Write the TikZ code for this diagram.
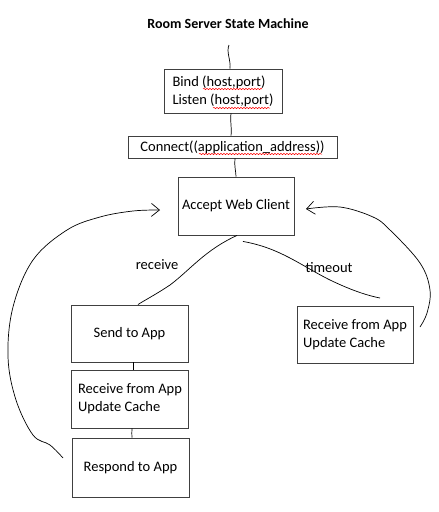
\documentclass[tikz,border=0pt]{standalone}
\usepackage{fontspec}
\setmainfont{Carlito}
\usetikzlibrary{arrows.meta,decorations.pathmorphing}
\begin{document}
\begin{tikzpicture}[x=1pt,y=-1pt,
  box/.style={draw=black!75,line width=0.9pt,inner sep=0pt,align=left,font=\fontsize{14.5}{18}\selectfont},
  hand/.style={line width=0.7pt,black},
  lab/.style={font=\fontsize{14.5}{18}\selectfont},
  barb/.style={-{Straight Barb[length=8pt,width=13pt]}},
  squig/.style={red,line width=0.5pt,decorate,decoration={snake,amplitude=0.7pt,segment length=3pt}}]
\useasboundingbox (0,0) rectangle (439,512);
\node[font=\bfseries\fontsize{14}{17}\selectfont] (title) at (228,24) {Room Server State Machine};
\node[box,minimum width=118pt,minimum height=44pt] (bind) at (223,91) {Bind (host,port)\\Listen (host,port)};
\node[box,minimum width=209pt,minimum height=22pt] (connect) at (232.5,147) {Connect((application\_address))};
\node[box,minimum width=116pt,minimum height=58pt] (accept) at (236,206) {Accept Web Client};
\node[box,minimum width=117pt,minimum height=57pt] (send) at (129.5,333.5) {Send to App};
\node[box,minimum width=117pt,minimum height=58pt] (recv) at (130,399) {Receive from App\\Update Cache};
\node[box,minimum width=117pt,minimum height=59pt] (resp) at (130.5,467.5) {Respond to App};
\node[box,minimum width=116pt,minimum height=57pt] (recv2) at (355,334.5) {Receive from App\\Update Cache};
% spell-check squiggles
\draw[squig] (203,89) -- (262,89);
\draw[squig] (213,108) -- (270,108);
\draw[squig] (199,154) -- (322,154);
% vertical links
\coordinate (top) at (229,45);
\draw[hand] (top) .. controls (226,52) and (231,60) .. (bind.north -| 230,0);
\draw[hand] (bind.south -| 231,0) .. controls (230,120) and (232,130) .. (connect.north -| 231,0);
\draw[hand] (connect.south -| 235,0) .. controls (234,165) and (236,172) .. (accept.north -| 236,0);
\draw[hand] (send.south -| 133,0) -- (recv.north -| 133,0);
\draw[hand] (recv.south -| 132,0) .. controls (131.5,432) and (132,435) .. (resp.north -| 132,0);
% receive / timeout
\draw[hand] (accept.south -| 237,0) .. controls (205,250) and (190,270) .. (170,285) .. controls (155,295) and (145,300) .. (send.north -| 138,0);
\node[lab] (rlabel) at (157,265) {receive};
\coordinate (tend) at (380,298);
\draw[hand] (accept.south -| 243,0) ++(0,6) .. controls (280,248) and (300,265) .. (330,280) .. controls (355,292) and (370,296) .. (tend);
\node[lab] (tlabel) at (329,268) {timeout};
% feedback loops
\coordinate (l0) at (63,458);
\coordinate (l9) at (160,210);
\draw[hand,barb] plot[smooth,tension=0.6] coordinates {(l0) (50,445) (33,435) (16,400) (8,357) (13,307) (33,260) (67,230) (100,217) (133,211) (l9)};
\coordinate (r0) at (420,327);
\coordinate (r9) at (306,209);
\draw[hand,barb] plot[smooth,tension=0.6] coordinates {(r0) (427,313) (430,290) (420,263) (390,230) (373,217) (340,207) (r9)};
\end{tikzpicture}
\end{document}
